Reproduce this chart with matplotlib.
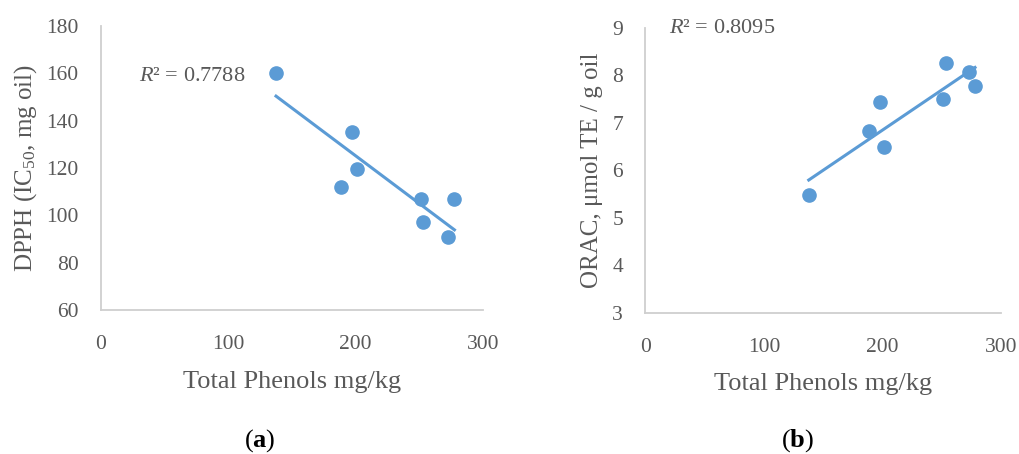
import numpy as np
import matplotlib
matplotlib.use("Agg")
import matplotlib.pyplot as plt

# Data
phenols = [137.7, 188.7, 197.6, 201.5, 251.2, 253.0, 273.0, 277.8]
dpph = [160.2, 112.1, 135.1, 119.5, 107.0, 97.2, 91.0, 107.0]
orac = [5.48, 6.83, 7.44, 6.49, 7.50, 8.25, 8.06, 7.78]
r2_a = "0.7788"
r2_b = "0.8095"
x_ticks = [0, 100, 200, 300]
dpph_ticks = [60, 80, 100, 120, 140, 160, 180]
orac_ticks = [3, 4, 5, 6, 7, 8, 9]

plt.rcParams['font.family'] = ['Liberation Serif', 'DejaVu Serif']
plt.rcParams['mathtext.fontset'] = 'custom'
plt.rcParams['mathtext.rm'] = 'Liberation Serif'
plt.rcParams['mathtext.it'] = 'Liberation Serif:italic'
plt.rcParams['mathtext.bf'] = 'Liberation Serif:bold'

GRAY = '#595959'
SPINE = '#cfcfcf'
BLUE = '#5b9bd5'

fig = plt.figure(figsize=(10.19, 4.54), dpi=100)
ax1 = fig.add_axes([0.0988, 0.3172, 0.3749, 0.6256])
ax2 = fig.add_axes([0.6333, 0.3112, 0.3494, 0.6278])


def style(ax, yticks):
    for s in ['top', 'right']:
        ax.spines[s].set_visible(False)
    for s in ['left', 'bottom']:
        ax.spines[s].set_color(SPINE)
        ax.spines[s].set_linewidth(1.3)
    ax.set_xlim(x_ticks[0], x_ticks[-1])
    ax.set_ylim(yticks[0], yticks[-1])
    ax.set_xticks(x_ticks)
    ax.set_yticks(yticks)
    ax.tick_params(length=0, labelsize=15.5, colors=GRAY, pad=16)
    ax.tick_params(axis='x', pad=18)


def draw(ax, x, y):
    x = np.array(x)
    y = np.array(y)
    ax.plot(x, y, 'o', color=BLUE, markersize=9.5, zorder=3, clip_on=False)
    m, b = np.polyfit(x, y, 1)
    xs = np.array([x.min(), x.max()])
    ax.plot(xs, m * xs + b, color=BLUE, linewidth=2.2, zorder=2)


style(ax1, dpph_ticks)
draw(ax1, phenols, dpph)
ax1.set_xlabel('Total Phenols mg/kg', fontsize=19, color=GRAY, labelpad=12)
ax1.set_ylabel('DPPH (IC$_{50}$, mg oil)', fontsize=18, color=GRAY, labelpad=5)
ax1.text(30, 158.5, '$R$² = ' + r2_a, fontsize=16, color=GRAY, va='center', ha='left')

style(ax2, orac_ticks)
draw(ax2, phenols, orac)
ax2.set_xlabel('Total Phenols mg/kg', fontsize=19, color=GRAY, labelpad=12)
ax2.set_ylabel('ORAC, μmol TE / g oil', fontsize=18, color=GRAY, labelpad=7)
ax2.text(20, 8.99, '$R$² = ' + r2_b, fontsize=16, color=GRAY, va='center', ha='left')

fig.text(260 / 1019, 1 - 441 / 454, '($\\mathbf{a}$)', fontsize=19, color='black', ha='center', va='center')
fig.text(798 / 1019, 1 - 441 / 454, '($\\mathbf{b}$)', fontsize=19, color='black', ha='center', va='center')

fig.savefig('out.png', dpi=100)
